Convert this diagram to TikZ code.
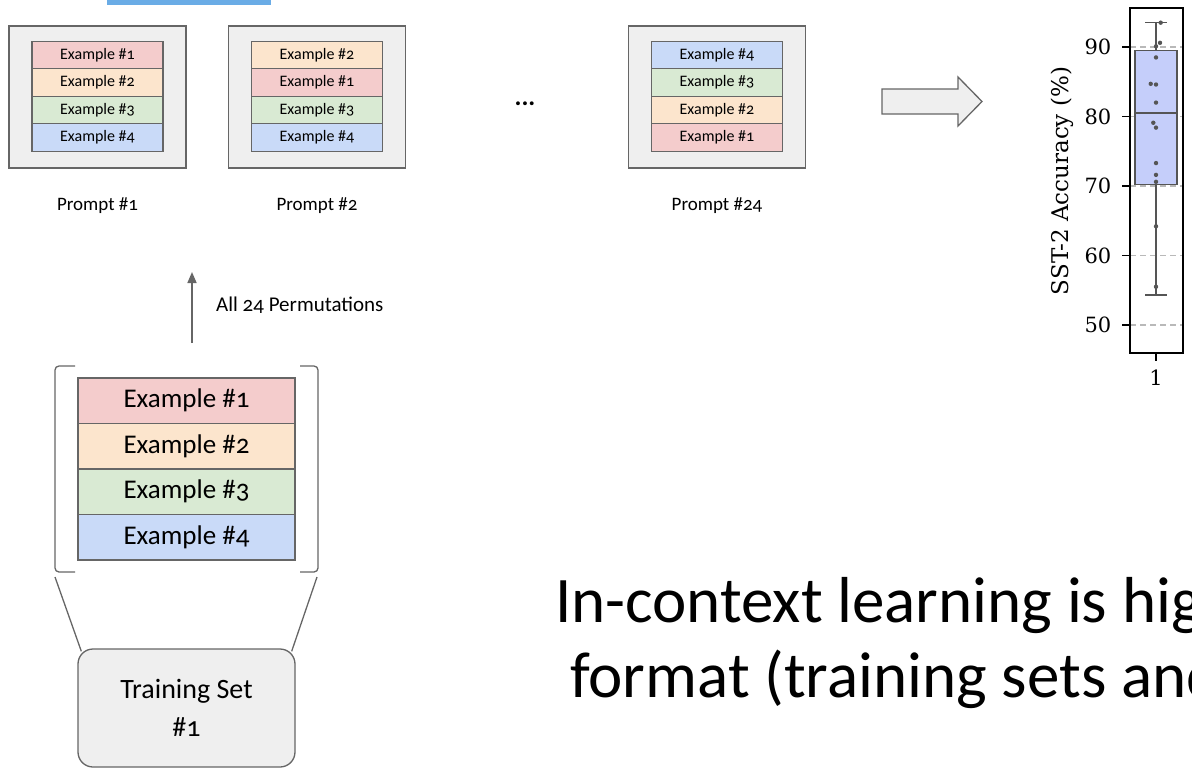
\documentclass[tikz,border=0pt]{standalone}
\usepackage{fontspec}
\setmainfont{Carlito}[Numbers=OldStyle]
\newfontfamily\plotfont{DejaVu Serif}
\usetikzlibrary{positioning,arrows.meta}

\definecolor{ex1}{HTML}{F4CCCC}
\definecolor{ex2}{HTML}{FCE5CD}
\definecolor{ex3}{HTML}{D9EAD3}
\definecolor{ex4}{HTML}{C9DAF8}
\definecolor{panelgray}{HTML}{EFEFEF}
\definecolor{edgegray}{HTML}{666666}
\definecolor{barblue}{HTML}{6AACE6}
\definecolor{boxblue}{RGB}{197,206,250}
\definecolor{plotgray}{HTML}{555555}

\tikzset{
  promptbox/.style={draw=edgegray, fill=panelgray, line width=1.5pt,
    minimum width=177pt, minimum height=142pt, inner sep=0pt},
  smallex/.style={draw=edgegray, line width=1.3pt, minimum width=131pt,
    minimum height=27.5pt, inner sep=0pt, font=\fontsize{16}{19}\selectfont},
  bigex/.style={draw=edgegray, line width=1.3pt, minimum width=217pt,
    minimum height=45.5pt, inner sep=0pt, font=\fontsize{27}{32}\selectfont},
  promptlabel/.style={font=\fontsize{19}{23}\selectfont, inner sep=0pt},
  bracket/.style={draw=edgegray, line width=1.3pt, rounded corners=4pt},
  funnel/.style={draw=edgegray, line width=1.3pt},
  trainbox/.style={draw=edgegray, fill=panelgray, line width=1.3pt,
    rounded corners=15pt, minimum width=217pt, minimum height=118pt,
    align=center, font=\fontsize{28}{38}\selectfont},
  gridline/.style={draw=gray!55, line width=1.2pt, dash pattern=on 6pt off 4pt},
  plotaxis/.style={draw=black, line width=1.3pt},
  plottick/.style={font=\plotfont\fontsize{21}{25}\selectfont, inner sep=2pt},
  boxline/.style={draw=plotgray, line width=1.4pt},
  claim/.style={anchor=base west, inner sep=0pt, font=\fontsize{65}{75}\selectfont}
}

% y position (px) of an accuracy value
\def\accpx#1{325-((#1)-50)*6.95}

\begin{document}
\begin{tikzpicture}[x=1pt, y=-1pt]
  \useasboundingbox (0,0) rectangle (1192,769);
  \clip (0,0) rectangle (1192,769);

  % Top bar
  \fill[barblue] (107,0) rectangle (271,5);

  % Prompts
  \node[promptbox] (p1) at (97.5,97) {};
  \node[promptbox] (p2) at (317,97) {};
  \node[promptbox] (p24) at (717,97) {};
  \foreach \p/\order in {p1/{1,2,3,4}, p2/{2,1,3,4}, p24/{4,3,2,1}}
    \foreach \n [count=\i] in \order
      \node[smallex, fill=ex\n] (\p-\i) at ([yshift={-16pt-(\i-0.5)*27.5pt}]\p.north) {Example \#\n};
  \node[promptlabel] (l1) at ([yshift=-37pt]p1.south) {Prompt \#1};
  \node[promptlabel] (l2) at ([yshift=-37pt]p2.south) {Prompt \#2};
  \node[promptlabel] (l24) at ([yshift=-37pt]p24.south) {Prompt \#24};
  \node[font=\bfseries\fontsize{26}{28}\selectfont] (dots) at (525,104) {...};

  % Block arrow to the plot
  \draw[draw=edgegray, fill=panelgray, line width=1.3pt]
    (882,89) -- (958,89) -- (958,77) -- (982,101.5) -- (958,126) -- (958,114) -- (882,114) -- cycle;

  % Training set
  \foreach \n in {1,...,4}
    \node[bigex, fill=ex\n] (b\n) at (186.5,{378+(\n-0.5)*45.5}) {Example \#\n};
  \draw[bracket] (75,366) -- (55,366) -- (55,572) -- (75,572);
  \draw[bracket] (300,366) -- (318,366) -- (318,572) -- (300,572);
  \coordinate (lfoot) at (55,577);
  \coordinate (rfoot) at (317,577);
  \node[trainbox] (train) at (186.5,708) {Training Set\\\#1};
  \draw[funnel] (lfoot) -- ([shift={(4,3)}]train.north west);
  \draw[funnel] (rfoot) -- ([shift={(-4,3)}]train.north east);

  % Permutations
  \coordinate (permfoot) at (192,343);
  \coordinate (permtip) at (192,272);
  \draw[draw=edgegray, line width=1.6pt, -{Triangle[length=11pt,width=9pt]}] (permfoot) -- (permtip);
  \node[anchor=west, inner sep=0pt, font=\fontsize{21}{25}\selectfont] (permlabel) at (216,305) {All 24 Permutations};

  % Grid and y ticks
  \foreach \v in {50,60,...,90} {
    \draw[gridline] (1130,{\accpx{\v}}) -- (1183,{\accpx{\v}});
    \draw[plotaxis] (1130,{\accpx{\v}}) -- (1122,{\accpx{\v}}) node[left=8pt, plottick] {\v};
  }
  % Box plot
  \draw[boxline, fill=boxblue] (1135,{\accpx{70.2}}) rectangle (1177,{\accpx{89.5}});
  \draw[boxline] (1135,{\accpx{80.5}}) -- (1177,{\accpx{80.5}});
  \draw[boxline] (1156,{\accpx{89.5}}) -- (1156,{\accpx{93.5}});
  \draw[boxline] (1145,{\accpx{93.5}}) -- (1167,{\accpx{93.5}});
  \draw[boxline] (1156,{\accpx{70.2}}) -- (1156,{\accpx{54.3}});
  \draw[boxline] (1145,{\accpx{54.3}}) -- (1167,{\accpx{54.3}});
  % Points
  \foreach \px/\v in {1160.7/93.5, 1160/90.6, 1156/90.1, 1156/88.5, 1150.7/84.7, 1156/84.6,
      1156/82.0, 1153.3/79.1, 1156/78.4, 1156/73.3, 1156/71.6, 1156/70.6, 1156/64.2, 1156/55.5}
    \fill[plotgray] (\px,{\accpx{\v}}) circle (2.2pt);
  % Frame
  \draw[plotaxis, line width=1.6pt] (1130,8) rectangle (1183,353);
  \draw[plotaxis] (1156,353) -- (1156,361) node[below=6pt, plottick] {1};
  \node[rotate=90, inner sep=0pt, font=\plotfont\fontsize{23}{27}\selectfont] (ylab) at (1062,181) {SST-2 Accuracy (\%)};

  % Claim
  \node[claim] (claim1) at (555,622) {In-context learning is hig};
  \node[claim] (claim2) at (570,697) {format (training sets and};
\end{tikzpicture}
\end{document}
